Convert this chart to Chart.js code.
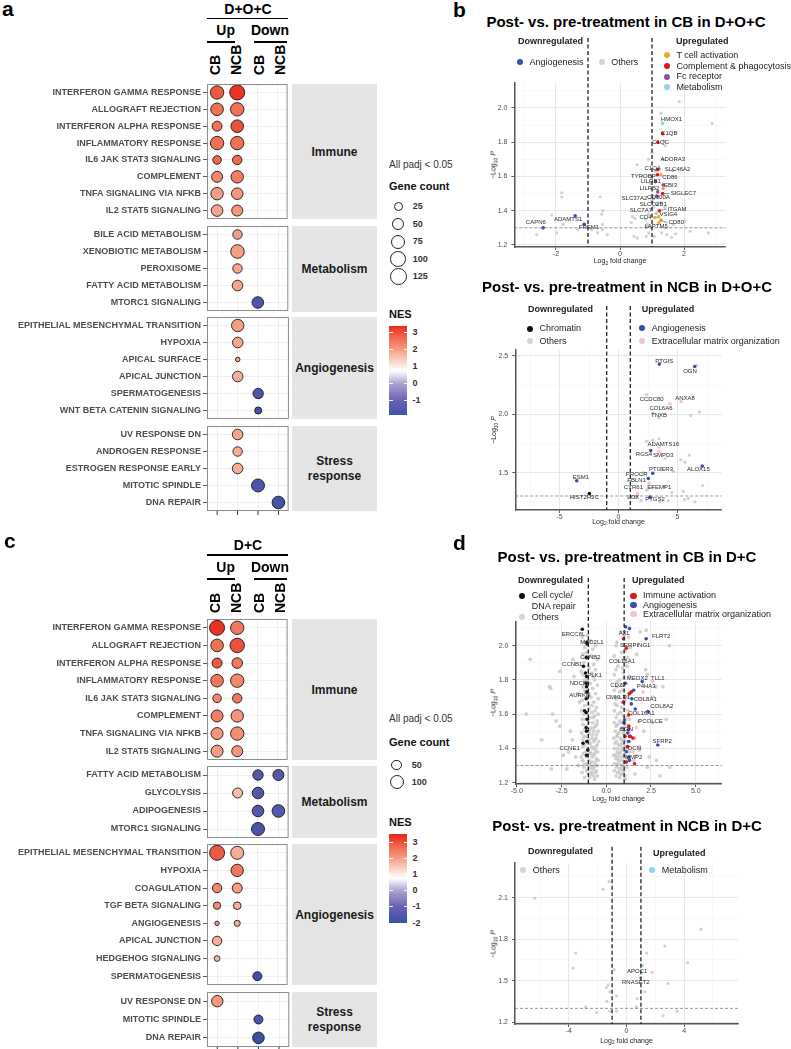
<!DOCTYPE html>
<html><head><meta charset="utf-8">
<script src="https://cdn.jsdelivr.net/npm/chart.js@4.4.1/dist/chart.umd.min.js"></script>
<style>
html,body{margin:0;padding:0;background:#fff;}
#root{position:relative;width:791px;height:1049px;overflow:hidden;font-family:"Liberation Sans",Arial,Helvetica,sans-serif;background:#fff;}
#root canvas{position:absolute;}
.t{position:absolute;white-space:nowrap;}
.t sub{font-size:70%;vertical-align:baseline;position:relative;top:0.35em;line-height:0;}
</style></head><body><div id="root"></div>
<script>
// ================= DATA =================
const boxColumns = ['CB Up','NCB Up','CB Down','NCB Down'];

// ---- Panel a: D+O+C (columns: CB Up, NCB Up, CB Down, NCB Down) ----
const aImmuneRows = ['INTERFERON GAMMA RESPONSE','ALLOGRAFT REJECTION','INTERFERON ALPHA RESPONSE','INFLAMMATORY RESPONSE','IL6 JAK STAT3 SIGNALING','COMPLEMENT','TNFA SIGNALING VIA NFKB','IL2 STAT5 SIGNALING'];
const aImmuneCount = [[79,105,null,null],[68,79,null,null],[37,68,null,null],[79,79,null,null],[25,32,null,null],[48,65,null,null],[65,55,null,null],[55,48,null,null]];
const aImmuneNES   = [[2.9,3.3,null,null],[2.6,2.6,null,null],[2.6,3.0,null,null],[2.6,2.6,null,null],[2.7,2.7,null,null],[2.3,2.4,null,null],[2.0,2.1,null,null],[1.9,2.1,null,null]];
const aMetabRows = ['BILE ACID METABOLISM','XENOBIOTIC METABOLISM','PEROXISOME','FATTY ACID METABOLISM','MTORC1 SIGNALING'];
const aMetabCount = [[null,32,null,null],[null,82,null,null],[null,32,null,null],[null,43,null,null],[null,null,55,null]];
const aMetabNES   = [[null,2.0,null,null],[null,2.0,null,null],[null,1.9,null,null],[null,1.9,null,null],[null,null,-1.6,null]];
const aAngioRows = ['EPITHELIAL MESENCHYMAL TRANSITION','HYPOXIA','APICAL SURFACE','APICAL JUNCTION','SPERMATOGENESIS','WNT BETA CATENIN SIGNALING'];
const aAngioCount = [[null,65,null,null],[null,43,null,null],[null,6,null,null],[null,43,null,null],[null,null,41,null],[null,null,15,null]];
const aAngioNES   = [[null,2.0,null,null],[null,1.9,null,null],[null,2.0,null,null],[null,1.8,null,null],[null,null,-1.6,null],[null,null,-1.8,null]];
const aStressRows = ['UV RESPONSE DN','ANDROGEN RESPONSE','ESTROGEN RESPONSE EARLY','MITOTIC SPINDLE','DNA REPAIR'];
const aStressCount = [[null,43,null,null],[null,32,null,null],[null,43,null,null],[null,null,73,null],[null,null,null,68]];
const aStressNES   = [[null,1.9,null,null],[null,1.8,null,null],[null,1.8,null,null],[null,null,-1.6,null],[null,null,null,-1.8]];
const aSizeLegend = [25,50,75,100,125];
const aNesTicks = [3,2,1,0,-1];

// ---- Panel c: D+C ----
const cImmuneRows = aImmuneRows;
const cImmuneCount = [[138,104,null,null],[90,125,null,null],[50,58,null,null],[90,104,null,null],[34,43,null,null],[79,86,null,null],[79,104,null,null],[79,64,null,null]];
const cImmuneNES   = [[3.3,2.5,null,null],[2.6,3.0,null,null],[2.9,2.5,null,null],[2.5,2.3,null,null],[2.3,2.5,null,null],[2.4,2.1,null,null],[2.1,2.2,null,null],[2.0,2.1,null,null]];
const cMetabRows = ['FATTY ACID METABOLISM','GLYCOLYSIS','ADIPOGENESIS','MTORC1 SIGNALING'];
const cMetabCount = [[null,null,55,64],[null,50,73,null],[null,null,73,90],[null,null,97,null]];
const cMetabNES   = [[null,null,-1.5,-1.5],[null,1.6,-1.5,null],[null,null,-1.5,-1.5],[null,null,-1.7,null]];
const cAngioRows = ['EPITHELIAL MESENCHYMAL TRANSITION','HYPOXIA','COAGULATION','TGF BETA SIGNALING','ANGIOGENESIS','APICAL JUNCTION','HEDGEHOG SIGNALING','SPERMATOGENESIS'];
const cAngioCount = [[138,97,null,null],[null,86,null,null],[43,50,null,null],[23,25,null,null],[9,15,null,null],[43,null,null,null],[13,null,null,null],[null,null,38,null]];
const cAngioNES   = [[2.9,1.8,null,null],[null,2.5,null,null],[2.3,2.0,null,null],[2.2,1.8,null,null],[2.0,1.8,null,null],[1.8,null,null,null],[1.6,null,null,null],[null,null,-1.9,null]];
const cStressRows = ['UV RESPONSE DN','MITOTIC SPINDLE','DNA REPAIR'];
const cStressCount = [[70,null,null,null],[null,null,38,null],[null,null,73,null]];
const cStressNES   = [[2.1,null,null,null],[null,null,-1.6,null],[null,null,-2.0,null]];
const cSizeLegend = [50,100];
const cNesTicks = [3,2,1,0,-1,-2];

// ---- Panel b top: CB in D+O+C  [log2FC, -log10 P] ----
const bTopTcell = [[1.28,1.61],[1.35,1.53],[1.09,1.36],[1.2,1.365],[1.28,1.345],[1.22,1.33]];
const bTopComplement = [[1.33,1.85],[1.18,1.80],[1.18,1.64],[1.17,1.61],[1.33,1.50],[1.23,1.40]];
const bTopFc = [[1.11,1.57],[1.35,1.55],[1.18,1.51],[1.15,1.485]];
const bTopMetab = [[1.33,1.91],[1.35,1.70],[1.65,1.635],[1.05,1.47],[1.17,1.435],[1.13,1.385]];
const bTopAngio = [[-2.4,1.30],[-1.4,1.37],[-1.12,1.32]];
const bTopOthers = [[1.85,2.037],[2.88,1.91],[1.28,1.97],[1.38,1.81],[1.41,1.78],[0.89,1.70],[0.54,1.67],[-1.82,1.505],[-1.82,1.48],[-0.62,1.48],[-2.13,1.375],[-0.54,1.40],[-0.57,1.38],[0.39,1.365],[0.47,1.356],[0.89,1.38],[0.80,1.35],[0.85,1.32],[0.82,1.30],[0.88,1.31],[0.9,1.27],[0.82,1.25],[0.44,1.25],[0.54,1.24],[-0.55,1.32],[-0.55,1.29],[-0.7,1.27],[-0.89,1.29],[-0.4,1.26],[-2.6,1.26],[-1.98,1.27],[-1.32,1.29],[1.3,1.27],[1.46,1.26],[1.61,1.245],[1.74,1.265],[2.19,1.28],[2.76,1.27],[2.03,1.34],[1.67,1.32],[1.41,1.30],[1.07,1.25],[-1.78,1.32],[1.0,1.74],[1.1,1.63],[0.95,1.56],[1.0,1.45],[1.05,1.42],[1.25,1.45],[1.4,1.42],[0.35,1.33]];
const bTopLabels = [['HMOX1',1.61,1.934],['C1QB',1.54,1.85],['C1QC',1.27,1.80],['ADORA3',1.65,1.70],['C1QA',1.02,1.645],['SLC46A2',1.80,1.64],['TYROBP',0.73,1.60],['CD86',1.56,1.595],['LILRB1',0.96,1.57],['EBI3',1.58,1.55],['LILRB2',0.92,1.53],['SIGLEC7',1.98,1.50,1.33,1.50],['SLC37A2',0.45,1.47,1.05,1.47],['CD300A',1.2,1.48],['SLCO2B1',1.04,1.44],['ITGAM',1.78,1.41,1.23,1.40],['SLC7A7',0.65,1.40],['VSIG4',1.51,1.38],['CD4',0.8,1.36],['CD80',1.76,1.33,1.25,1.345],['LAPTM5',1.13,1.31],['CAPN6',-2.63,1.33],['ADAMTS1',-1.62,1.35],['FREM1',-0.97,1.30]];

// ---- Panel b bottom: NCB in D+O+C ----
const bBotChromatin = [[-2.47,1.32]];
const bBotAngio = [[3.46,2.43],[6.46,2.41],[2.73,1.69],[7.10,1.557],[2.90,1.495],[2.53,1.45],[2.67,1.29],[-3.54,1.43]];
const bBotECM = [[2.39,2.17],[5.30,2.11],[4.36,2.09],[3.43,1.97],[3.43,1.72],[3.43,1.68],[2.6,1.41],[2.9,1.37],[1.6,1.32],[1.4,1.29]];
const bBotOthers = [[6.63,2.42],[6.85,2.02],[6.12,1.99],[2.95,2.01],[3.43,1.79],[2.9,1.78],[2.39,1.77],[5.27,1.61],[6.0,1.65],[5.64,1.59],[3.94,1.62],[4.65,1.51],[3.66,1.54],[7.13,1.39],[5.49,1.34],[5.92,1.28],[6.48,1.25],[5.6,1.27],[4.22,1.26],[3.5,1.25],[4.5,1.33],[2.4,1.35],[3.9,1.38],[1.9,1.26],[2.1,1.5]];
const bBotLabels = [['PTGIS',3.88,2.45],['OGN',6.06,2.37],['CCDC80',2.81,2.13],['ANXA8',5.64,2.14],['COL6A6',3.60,2.05],['TNXB',3.43,1.995],['ADAMTS16',3.8,1.74],['RGS4',2.16,1.66],['SMPD3',3.8,1.65],['PTGER3',3.6,1.53],['ALOX15',6.77,1.53],['PROCR',1.54,1.486],['FBLN1',1.54,1.43],['EFEMP1',3.46,1.375],['CYR61',1.26,1.37],['LOX',1.26,1.29],['PTGS2',3.09,1.27],['ESM1',-3.18,1.46],['HIST2H3C',-2.9,1.29]];

// ---- Panel d top: CB in D+C ----
const dTopCellCycle = [[-1.34,2.096],[-1.08,2.02],[-1.06,2.01],[-1.12,1.93],[-1.27,1.88],[-1.16,1.84],[-1.1,1.82],[-1.12,1.78],[-1.1,1.76],[-1.08,1.73],[-1.12,1.69],[-1.21,1.62],[-1.12,1.61],[-1.06,1.57],[-1.12,1.52],[-1.1,1.5],[-1.08,1.44],[-1.3,1.43],[-1.03,1.39],[-1.1,1.36]];
const dTopImmune = [[0.97,2.04],[1.12,1.985],[1.40,1.73],[1.3,1.72],[0.97,1.67],[1.25,1.595],[1.26,1.53],[1.05,1.47],[1.49,1.46],[1.2,1.41],[1.12,1.32],[1.58,1.31],[1.35,1.47]];
const dTopAngio = [[1.08,2.11],[1.30,2.10],[2.23,2.04],[1.06,1.78],[2.01,1.79],[1.53,1.74],[1.43,1.69],[1.40,1.66],[1.62,1.63],[2.33,1.615],[1.02,1.566],[0.99,1.55],[1.25,1.51],[1.2,1.49],[1.3,1.47],[1.26,1.44],[1.18,1.41],[1.12,1.38],[1.25,1.35],[1.3,1.33],[2.88,1.42]];
const dTopECM = [[2.6,1.79],[2.05,1.73],[1.12,1.58],[1.82,1.556],[1.68,1.52],[1.86,1.41],[1.68,1.36],[1.02,1.93],[1.9,1.69],[1.6,1.46],[1.5,1.38],[1.2,1.7],[1.45,1.6]];
const dTopOthers = [[-1.35,2.05],[-0.9,2.03],[-1.2,1.99],[-0.75,1.98],[-1.3,1.95],[-0.85,1.94],[-1.25,1.9],[-0.7,1.89],[-0.95,1.87],[-1.4,1.85],[-0.8,1.84],[-1.2,1.8],[-0.65,1.8],[-0.9,1.78],[-1.3,1.76],[-0.75,1.75],[-1.15,1.73],[-0.6,1.72],[-0.85,1.7],[-1.35,1.68],[-0.7,1.67],[-1.2,1.65],[-0.55,1.64],[-0.95,1.63],[-0.8,1.61],[-1.25,1.6],[-0.65,1.59],[-0.9,1.58],[-1.15,1.57],[-0.5,1.56],[-0.75,1.55],[-1.3,1.54],[-0.6,1.53],[-0.85,1.52],[-1.2,1.51],[-0.7,1.5],[-0.95,1.49],[-0.55,1.48],[-1.25,1.47],[-0.8,1.46],[-0.65,1.45],[-1.1,1.44],[-0.9,1.43],[-0.5,1.42],[-1.3,1.41],[-0.75,1.4],[-0.6,1.39],[-1.15,1.38],[-0.85,1.37],[-0.7,1.36],[-1.4,1.35],[-0.55,1.34],[-0.95,1.33],[-0.8,1.32],[-1.2,1.31],[-0.65,1.3],[-0.9,1.29],[-0.75,1.28],[-1.1,1.27],[-0.6,1.26],[-0.85,1.25],[-0.7,1.24],
[-1.05,2.06],[-0.6,2.0],[-1.1,1.96],[-0.5,1.92],[-1.0,1.88],[-0.6,1.86],[-1.3,1.83],[-0.72,1.82],[-1.05,1.8],[-0.5,1.77],[-1.2,1.74],[-0.95,1.72],[-0.45,1.69],[-1.0,1.66],[-0.8,1.65],[-1.4,1.62],[-0.62,1.62],[-1.05,1.6],[-0.45,1.6],[-0.72,1.58],[-1.35,1.57],[-0.98,1.55],[-0.52,1.54],[-1.15,1.53],[-0.68,1.52],[-0.92,1.51],[-0.45,1.5],[-1.38,1.49],[-0.78,1.48],[-1.08,1.47],[-0.58,1.46],[-1.3,1.45],[-0.98,1.45],[-0.7,1.44],[-0.42,1.44],[-1.2,1.42],[-0.82,1.41],[-0.58,1.41],[-1.05,1.4],[-0.48,1.38],[-0.92,1.38],[-1.28,1.37],[-0.65,1.37],[-1.1,1.35],[-0.78,1.35],[-0.45,1.33],[-1.32,1.33],[-0.62,1.32],[-1.05,1.31],[-0.88,1.31],[-0.5,1.3],[-1.25,1.29],[-0.7,1.29],[-0.98,1.28],[-0.55,1.27],[-1.35,1.26],[-0.8,1.26],[-1.0,1.25],[-0.5,1.24],[-1.2,1.23],[-0.92,1.23],[-0.65,1.22],
[0.8,2.08],[1.25,2.05],[0.6,2.02],[1.35,1.99],[0.85,1.96],[1.2,1.93],[0.7,1.91],[1.15,1.88],[0.55,1.86],[0.95,1.84],[1.3,1.82],[0.75,1.8],[1.1,1.78],[0.6,1.76],[0.9,1.74],[1.25,1.72],[0.7,1.7],[1.05,1.68],[0.5,1.66],[0.85,1.64],[1.2,1.62],[0.65,1.6],[0.95,1.59],[1.3,1.57],[0.75,1.56],[1.1,1.54],[0.55,1.53],[0.9,1.52],[1.25,1.5],[0.7,1.49],[1.0,1.48],[0.6,1.47],[0.85,1.45],[1.15,1.44],[0.5,1.43],[0.8,1.42],[1.05,1.41],[0.65,1.4],[0.95,1.39],[1.3,1.38],[0.75,1.37],[0.55,1.36],[0.9,1.35],[1.2,1.34],[0.7,1.33],[1.0,1.32],[0.6,1.31],[0.85,1.3],[1.15,1.29],[0.75,1.28],[0.95,1.27],[0.65,1.26],[0.8,1.25],[1.05,1.24],
[1.0,2.06],[0.55,2.0],[1.05,1.97],[0.45,1.94],[1.0,1.91],[0.65,1.88],[0.9,1.87],[0.45,1.83],[1.0,1.81],[0.62,1.79],[0.85,1.77],[0.45,1.74],[0.75,1.73],[1.0,1.71],[0.55,1.69],[0.9,1.67],[0.6,1.65],[1.0,1.63],[0.45,1.62],[0.8,1.61],[0.55,1.58],[1.05,1.57],[0.85,1.55],[0.45,1.55],[0.65,1.54],[1.0,1.52],[0.8,1.51],[0.5,1.5],[0.95,1.49],[0.62,1.48],[0.42,1.46],[0.78,1.46],[1.0,1.45],[0.58,1.44],[0.9,1.43],[0.7,1.42],[0.45,1.4],[0.88,1.4],[1.1,1.39],[0.62,1.38],[0.8,1.38],[0.42,1.36],[1.0,1.36],[0.7,1.35],[0.55,1.34],[0.88,1.33],[1.1,1.32],[0.45,1.31],[0.72,1.31],[0.95,1.3],[0.58,1.29],[0.82,1.28],[0.45,1.27],[1.0,1.27],[0.68,1.26],[0.9,1.25],[0.55,1.24],[0.75,1.23],[1.05,1.22],
[-4.25,1.92],[-3.17,1.76],[-3.1,1.75],[-4.47,1.6],[-3.0,1.6],[-2.8,1.56],[-2.6,1.53],[-3.07,1.28],[-2.4,1.36],[-2.1,1.38],[-2.2,1.28],[-2.6,1.85],[-1.86,1.92],[-1.8,1.82],[-1.5,1.67],[-1.6,1.72],[-1.9,1.45],[-1.7,1.35],[-1.55,1.3],[-3.6,1.45],[-2.0,1.5],
[2.23,2.09],[3.53,2.0],[3.16,1.76],[2.78,1.76],[2.3,1.83],[2.6,1.7],[3.35,1.57],[2.6,1.55],[1.85,1.39],[2.4,1.35],[2.8,1.33],[2.3,1.29],[1.54,1.33],[3.55,1.29],[3.0,1.24],[2.2,1.86],[1.7,1.95],[1.9,2.08],[1.6,1.25],[2.1,1.5]];
const dTopLabels = [['ERCC6L',-1.83,2.066],['AXL',1.02,2.07],['FLRT2',3.07,2.057],['MAD2L1',-0.80,2.02],['SERPING1',1.62,2.0],['CCNB2',-0.88,1.93],['COL15A1',0.87,1.91],['CCNB1',-1.9,1.89],['PLK1',-0.65,1.825],['MEOX2',1.73,1.81],['TLL1',2.88,1.81],['NDC80',-1.49,1.78],['CD22',0.65,1.77],['P4HA3',2.23,1.765],['AURKB',-1.49,1.71],['CMKLR1',0.65,1.70],['COL8A1',2.18,1.687],['COL8A2',3.1,1.645],['COL16A1',1.96,1.605],['PCOLCE',2.47,1.56],['BGN',1.13,1.51],['SFRP2',3.13,1.44],['CCNE1',-2.05,1.40],['DCN',1.58,1.40],['MMP2',1.53,1.35]];

// ---- Panel d bottom: NCB in D+C ----
const dBotMetab = [[1.08,1.61],[0.97,1.52]];
const dBotOthers = [[-6.37,2.096],[-1.21,2.216],[-1.62,2.16],[-3.52,1.70],[-3.71,1.59],[5.16,1.87],[2.66,1.75],[1.39,1.70],[4.24,1.63],[1.78,1.56],[2.89,1.48],[1.27,1.42],[-0.86,1.58],[-1.28,1.47],[-1.39,1.45],[-1.16,1.42],[-0.69,1.39],[-1.35,1.35],[0.74,1.37],[0.69,1.31],[-2.83,1.31],[-2.08,1.27],[-1.16,1.28],[-0.69,1.28],[3.51,1.28],[2.54,1.245]];
const dBotLabels = [['APOC1',0.74,1.57],['RNASET2',0.65,1.49]];

// ---- tick values / labels ----
const bTopXTicks = [-3,-2,-1,0,1,2,3], bTopXLabels = ['','-2','','0','','2',''];
const bTopYTicks = [1.2,1.3,1.4,1.5,1.6,1.7,1.8,1.9,2.0,2.1], bTopYLabels = ['1.2','','1.4','','1.6','','1.8','','2.0',''];
const bBotXTicks = [-7.5,-5,-2.5,0,2.5,5,7.5], bBotXLabels = ['','-5','','0','','5',''];
const bBotYTicks = [1.25,1.5,1.75,2.0,2.25,2.5], bBotYLabels = ['','1.5','','2.0','','2.5'];
const dTopXTicks = [-5,-3.75,-2.5,-1.25,0,1.25,2.5,3.75,5,6.25], dTopXLabels = ['-5.0','','-2.5','','0.0','','2.5','','5.0',''];
const dTopYTicks = bTopYTicks, dTopYLabels = bTopYLabels;
const dBotXTicks = [-6,-4,-2,0,2,4,6], dBotXLabels = ['','-4','','0','','4',''];
const dBotYTicks = [1.2,1.35,1.5,1.65,1.8,1.95,2.1,2.25], dBotYLabels = ['1.2','','1.5','','1.8','','2.1',''];

// ================= STYLE / HELPERS =================
const F = '"Liberation Sans", Arial, Helvetica, sans-serif';
Chart.defaults.font.family = F;
const root = document.getElementById('root');
const ORANGE='#f7a531', RED='#e4151b', PURPLE='#8d4fa5', LBLUE='#8fd3f0', BLUE='#3650b0', PINK='#f6c3cc', BLACK='#111111', GREY='rgba(198,198,198,0.8)', LGREY='#d4d4d4';
const NES_STOPS = [[-2.0,[59,78,166]],[-1.0,[106,98,178]],[0.0,[172,162,210]],[0.75,[255,255,255]],[1.5,[249,198,182]],[2.2,[244,142,115]],[2.9,[238,90,65]],[3.4,[232,41,28]]];
function nesColor(v){
  const s=NES_STOPS;
  const f=c=>`rgb(${Math.round(c[0])},${Math.round(c[1])},${Math.round(c[2])})`;
  if(v<=s[0][0]) return f(s[0][1]);
  for(let i=1;i<s.length;i++){ if(v<=s[i][0]){ const t=(v-s[i-1][0])/(s[i][0]-s[i-1][0]); const a=s[i-1][1], b=s[i][1]; return f([a[0]+(b[0]-a[0])*t,a[1]+(b[1]-a[1])*t,a[2]+(b[2]-a[2])*t]); } }
  return f(s[s.length-1][1]);
}
const sizeA = c => 1.7 + 0.581*Math.sqrt(Math.max(c-5,0));
const sizeC = c => 1.7 + 0.509*Math.sqrt(Math.max(c-8,0));

function T(html,x,base,size,o={}){
  const d=document.createElement('div'); d.className='t'; d.innerHTML=html;
  d.style.fontSize=size+'px'; d.style.lineHeight=size+'px';
  d.style.top=(base-0.8465*size)+'px';
  d.style.fontWeight=o.bold?'bold':'normal'; d.style.color=o.color||'#000';
  d.style.left=x+'px';
  if(o.align==='center') d.style.transform='translateX(-50%)';
  root.appendChild(d); return d;
}
function RT(html,cx,cy,size,o={}){ const d=T(html,cx,0,size,o); d.style.top=cy+'px'; d.style.transform='translate(-50%,-50%) rotate(-90deg)'; return d; }
function CL(txt,cx,bottom,size){ const d=T(txt,cx,0,size,{bold:true}); d.style.top=bottom+'px'; d.style.transformOrigin='0 0'; d.style.transform='rotate(-90deg) translateY(-50%)'; }
function RECT(x,y,w,h,bg){ const d=document.createElement('div'); d.style.cssText=`position:absolute;left:${x}px;top:${y}px;width:${w}px;height:${h}px;background:${bg};`; root.appendChild(d); return d; }
function DOT(cx,cy,r,col,border){ const d=document.createElement('div'); const b=border?`border:0.9px solid ${border};`:''; d.style.cssText=`position:absolute;left:${cx-r}px;top:${cy-r}px;width:${2*r}px;height:${2*r}px;border-radius:50%;background:${col};box-sizing:border-box;${b}`; root.appendChild(d); }
function addCanvas(l,t,w,h){ const c=document.createElement('canvas'); c.width=w; c.height=h; c.style.left=l+'px'; c.style.top=t+'px'; root.appendChild(c); return c; }

// ---------- bubble boxes ----------
function boxPlugin(xt){ return {id:'box', afterDraw(ch){ const c=ch.ctx,a=ch.chartArea; c.save(); c.strokeStyle='#8c8c8c'; c.lineWidth=1; c.strokeRect(a.left+0.5,a.top+0.5,a.right-a.left-1,a.bottom-a.top-1);
  if(xt){ c.strokeStyle='#333'; boxColumns.forEach((col,j)=>{ const x=ch.scales.x.getPixelForValue(j); c.beginPath(); c.moveTo(x,a.bottom); c.lineTo(x,a.bottom+4); c.stroke(); }); }
  c.restore(); }}; }
function makeBox(rows,counts,nes,top,bottom,sizeFn,xt){
  const M=12, W=296;
  const cv=addCanvas(0,top-M,W,bottom-top+2*M);
  const data=[];
  rows.forEach((row,i)=>boxColumns.forEach((col,j)=>{ if(counts[i][j]!=null) data.push({x:col,y:row,r:sizeFn(counts[i][j]),nes:nes[i][j]}); }));
  new Chart(cv,{type:'bubble',data:{datasets:[{data,backgroundColor:ctx=>nesColor(ctx.raw.nes),borderColor:'#1a1a1a',borderWidth:0.9,clip:false}]},
    options:{responsive:false,animation:false,devicePixelRatio:1,events:[],
      layout:{padding:{left:0,right:W-291,top:M,bottom:M}},
      plugins:{legend:{display:false},tooltip:{enabled:false}},
      scales:{
        x:{type:'category',labels:boxColumns,offset:true,afterFit:s=>{s.height=0;},ticks:{display:false},grid:{color:'#ebebeb',lineWidth:0.8,offset:false,drawTicks:false},border:{display:false}},
        y:{type:'category',labels:rows,offset:true,afterFit:s=>{s.width=207;},ticks:{font:{size:9,weight:'bold',family:F},color:'#4d4d4d',padding:2,autoSkip:false},grid:{color:'#ebebeb',lineWidth:0.8,offset:false,tickLength:4,tickColor:'#333'},border:{display:false}}
      }},plugins:[boxPlugin(xt)]});
}
function strip(top,bottom,lines){
  RECT(292,top,85,bottom-top,'#e5e5e5');
  const cy=(top+bottom)/2;
  lines.forEach((s,i)=>T(s,334.5,cy+(i-(lines.length-1)/2)*15+4.3,12,{bold:true,align:'center',color:'#1a1a1a'}));
}
function colorbar(x,top,h,w,vTop,vBot,ticks){
  const st=[]; for(let i=0;i<=40;i++){ const v=vTop-(vTop-vBot)*i/40; st.push(`${nesColor(v)} ${(i*2.5).toFixed(1)}%`); }
  RECT(x,top,w,h,`linear-gradient(to bottom, ${st.join(',')})`);
  ticks.forEach(v=>{ const y=top+(vTop-v)/(vTop-vBot)*h; RECT(x,y-0.5,3.5,1,'rgba(255,255,255,0.9)'); RECT(x+w-3.5,y-0.5,3.5,1,'rgba(255,255,255,0.9)'); T(String(v),x+w+5.5,y+3.2,9,{bold:true,color:'#333'}); });
}

// ---------- volcano ----------
function volcPlugin(cfg){ return {id:'volc', afterDraw(ch){
  const c=ch.ctx,xs=ch.scales.x,ys=ch.scales.y,a=ch.chartArea; c.save();
  const y13=ys.getPixelForValue(1.3);
  c.setLineDash([3,2]); c.strokeStyle='#6a6a6a'; c.lineWidth=0.7; c.beginPath(); c.moveTo(a.left,y13); c.lineTo(a.right,y13); c.stroke();
  c.setLineDash([4,2.5]); c.strokeStyle='#222'; c.lineWidth=1.3;
  [-1,1].forEach(v=>{ const x=xs.getPixelForValue(v); c.beginPath(); c.moveTo(x,cfg.dashTop-cfg.top); c.lineTo(x,a.bottom); c.stroke(); });
  c.setLineDash([]); c.font='6px '+F; c.fillStyle='#2a2a2a'; c.textAlign='center'; c.textBaseline='middle';
  cfg.labels.forEach(l=>{
    const lx=xs.getPixelForValue(l[1]), ly=ys.getPixelForValue(l[2]);
    if(l.length>3){ const px=xs.getPixelForValue(l[3]), py=ys.getPixelForValue(l[4]); const w=c.measureText(l[0]).width;
      const ex = lx>px ? lx-w/2-1 : lx+w/2+1; c.strokeStyle='#555'; c.lineWidth=0.6; c.beginPath(); c.moveTo(px,py); c.lineTo(ex,ly); c.stroke(); }
    c.fillText(l[0],lx,ly);
  });
  c.restore(); }}; }
function makeVolcano(cfg){
  const cv=addCanvas(cfg.left,cfg.top,cfg.width,cfg.height);
  const YW=22, XH=12, A=cfg.area;
  const pad={left:A.l-cfg.left-YW, top:A.t-cfg.top, right:cfg.left+cfg.width-A.r, bottom:cfg.top+cfg.height-A.b-XH};
  const datasets=cfg.groups.map(g=>({data:g.pts.map(p=>({x:p[0],y:p[1]})),backgroundColor:g.color,borderWidth:0,pointRadius:g.r||1.8,clip:false}));
  const axis=(ax,isX)=>({type:'linear',min:ax.min,max:ax.max,
    afterFit:s=>{ if(isX) s.height=XH; else s.width=YW; },
    afterBuildTicks:s=>{ s.ticks=ax.ticks.map(v=>({value:v})); },
    ticks:{callback:(v,i)=>ax.labels[i],font:{size:7,family:F},color:'#4d4d4d',padding:isX?0:4,autoSkip:false,maxRotation:0},
    grid:{color:ctx=>ax.labels[ctx.index]?'#e4e4e4':'#f1f1f1',lineWidth:ctx=>ax.labels[ctx.index]?0.9:0.5,tickLength:3,tickColor:ctx=>ax.labels[ctx.index]?'#444':'rgba(0,0,0,0)'},
    border:{display:true,color:'#555',width:1.5}});
  new Chart(cv,{type:'scatter',data:{datasets},options:{responsive:false,animation:false,devicePixelRatio:1,events:[],
    layout:{padding:pad},plugins:{legend:{display:false},tooltip:{enabled:false}},
    scales:{x:axis(cfg.x,true),y:axis(cfg.y,false)}},plugins:[volcPlugin(cfg)]});
  const cx=(A.l+A.r)/2, cy=(A.t+A.b)/2;
  T('Log<sub>2</sub> fold change',cx,cfg.xTitleBase,7,{align:'center',color:'#222'});
  RT('&minus;Log<sub>10</sub> <i>P</i>',493,cy,7,{color:'#222'});
}
function legendItem(cx,cy,col,text){ DOT(cx,cy,3.2,col); T(text,cx+9.5,cy+3.2,9,{color:'#222'}); }

// ================= PANEL a =================
T('a',2,16,21,{bold:true});
T('D+O+C',248,13.5,14,{bold:true,align:'center'});
RECT(207,17.8,81,1.4,'#000');
T('Up',225.7,34.5,14,{bold:true,align:'center'}); T('Down',270,34.5,14,{bold:true,align:'center'});
RECT(207,41.3,28,1.4,'#000'); RECT(254,41.3,33,1.4,'#000');
CL('CB',214.7,75,14); CL('NCB',235.8,75,14); CL('CB',259.3,75,14); CL('NCB',279.5,75,14);
makeBox(aImmuneRows,aImmuneCount,aImmuneNES,84,219,sizeA,false); strip(84,219,['Immune']);
makeBox(aMetabRows,aMetabCount,aMetabNES,226,311.5,sizeA,false); strip(226,311.5,['Metabolism']);
makeBox(aAngioRows,aAngioCount,aAngioNES,317,419,sizeA,false); strip(317,419,['Angiogenesis']);
makeBox(aStressRows,aStressCount,aStressNES,425.5,510.5,sizeA,true); strip(425.5,510.5,['Stress','response']);
T('All padj &lt; 0.05',389,168.3,10,{color:'#333'});
T('Gene count',389,190,11,{bold:true,color:'#111'});
[206.7,224.3,241.7,259.3,276.7].forEach((y,i)=>{ const r=sizeA(aSizeLegend[i]); DOT(398.3,y,r+0.45,'#fff','#222'); T(String(aSizeLegend[i]),412.7,y+3.2,9,{bold:true,color:'#333'}); });
T('NES',389,318.3,11,{bold:true,color:'#111'});
colorbar(389,326,89,18,3.4,-1.85,aNesTicks);

// ================= PANEL c =================
T('c',4,548,21,{bold:true});
T('D+C',248,549.5,14,{bold:true,align:'center'});
RECT(207,554.3,81,1.4,'#000');
T('Up',225.7,571.7,14,{bold:true,align:'center'}); T('Down',270,571.7,14,{bold:true,align:'center'});
RECT(207,578.3,28,1.4,'#000'); RECT(254,578.3,33,1.4,'#000');
CL('CB',214.7,613.3,14); CL('NCB',235.8,613.3,14); CL('CB',259.3,613.3,14); CL('NCB',279.5,613.3,14);
makeBox(cImmuneRows,cImmuneCount,cImmuneNES,619,760,sizeC,false); strip(619,760,['Immune']);
makeBox(cMetabRows,cMetabCount,cMetabNES,766,838,sizeC,false); strip(766,838,['Metabolism']);
makeBox(cAngioRows,cAngioCount,cAngioNES,844,985,sizeC,false); strip(844,985,['Angiogenesis']);
makeBox(cStressRows,cStressCount,cStressNES,991.5,1046.5,sizeC,true); strip(991.5,1046.5,['Stress','response']);
T('All padj &lt; 0.05',389,722.7,10,{color:'#333'});
T('Gene count',389,746.7,11,{bold:true,color:'#111'});
[765,782].forEach((y,i)=>{ const r=sizeC(cSizeLegend[i]); DOT(396.7,y,r+0.45,'#fff','#222'); T(String(cSizeLegend[i]),411.7,y+3.2,9,{bold:true,color:'#333'}); });
T('NES',389,826.7,11,{bold:true,color:'#111'});
colorbar(389,834,89,18,3.5,-2.0,cNesTicks);

// ================= PANEL b =================
T('b',453,17,21,{bold:true});
T('Post- vs. pre-treatment in CB in D+O+C',626,26.5,15,{bold:true,align:'center'});
makeVolcano({left:480,top:30,width:311,height:235,area:{l:514.4,t:83,r:725.6,b:247},
  x:{min:-3.3,max:3.3,ticks:bTopXTicks,labels:bTopXLabels},y:{min:1.188,max:2.146,ticks:bTopYTicks,labels:bTopYLabels},
  dashTop:38,xTitleBase:263,labels:bTopLabels,
  groups:[{pts:bTopTcell,color:ORANGE},{pts:bTopComplement,color:RED},{pts:bTopFc,color:PURPLE},{pts:bTopMetab,color:LBLUE},{pts:bTopAngio,color:BLUE},{pts:bTopOthers,color:GREY,r:1.6}]});
T('Downregulated',518,45,9,{bold:true,color:'#222'}); T('Upregulated',676,45,9,{bold:true,color:'#222'});
legendItem(520,62,BLUE,'Angiogenesis'); legendItem(601.7,62,LGREY,'Others');
legendItem(667,55.3,ORANGE,'T cell activation'); legendItem(667,66,RED,'Complement &amp; phagocytosis');
legendItem(667,76.7,PURPLE,'Fc receptor'); legendItem(667,87.3,LBLUE,'Metabolism');

T('Post- vs. pre-treatment in NCB in D+O+C',627,292,15,{bold:true,align:'center'});
makeVolcano({left:480,top:300,width:311,height:228,area:{l:515.25,t:350,r:721.75,b:510},
  x:{min:-8.75,max:8.75,ticks:bBotXTicks,labels:bBotXLabels},y:{min:1.18,max:2.551,ticks:bBotYTicks,labels:bBotYLabels},
  dashTop:306,xTitleBase:523.5,labels:bBotLabels,
  groups:[{pts:bBotChromatin,color:BLACK},{pts:bBotAngio,color:BLUE},{pts:bBotECM,color:PINK},{pts:bBotOthers,color:GREY,r:1.6}]});
T('Downregulated',528,312.3,9,{bold:true,color:'#222'}); T('Upregulated',641.7,312.3,9,{bold:true,color:'#222'});
legendItem(530,328.7,BLACK,'Chromatin'); legendItem(530,341,LGREY,'Others');
legendItem(642.3,328,BLUE,'Angiogenesis'); legendItem(642.3,341,PINK,'Extracellular matrix organization');

// ================= PANEL d =================
T('d',453,550,21,{bold:true});
T('Post- vs. pre-treatment in CB in D+C',627,562,15,{bold:true,align:'center'});
makeVolcano({left:480,top:570,width:311,height:232,area:{l:515.5,t:621.7,r:721.7,b:784},
  x:{min:-5.07,max:6.45,ticks:dTopXTicks,labels:dTopXLabels},y:{min:1.192,max:2.14,ticks:dTopYTicks,labels:dTopYLabels},
  dashTop:578,xTitleBase:801,labels:dTopLabels,
  groups:[{pts:dTopCellCycle,color:BLACK},{pts:dTopImmune,color:RED},{pts:dTopAngio,color:BLUE},{pts:dTopECM,color:PINK},{pts:dTopOthers,color:GREY,r:1.9}]});
T('Downregulated',518,584,9,{bold:true,color:'#222'}); T('Upregulated',632,584,9,{bold:true,color:'#222'});
legendItem(522.3,595.7,BLACK,'Cell cycle/'); T('DNA repair',531.8,609.9,9,{color:'#222'}); legendItem(522.3,617.3,LGREY,'Others');
legendItem(633.5,595.7,RED,'Immune activation'); legendItem(633.5,605,BLUE,'Angiogenesis'); legendItem(633.5,614.3,PINK,'Extracellular matrix organization');

T('Post- vs. pre-treatment in NCB in D+C',627,831,15,{bold:true,align:'center'});
makeVolcano({left:480,top:840,width:311,height:203,area:{l:515,t:863,r:738,b:1024},
  x:{min:-7.74,max:7.74,ticks:dBotXTicks,labels:dBotXLabels},y:{min:1.187,max:2.35,ticks:dBotYTicks,labels:dBotYLabels},
  dashTop:846.7,xTitleBase:1042.7,labels:dBotLabels,
  groups:[{pts:dBotMetab,color:LBLUE},{pts:dBotOthers,color:GREY,r:1.6}]});
T('Downregulated',528,855,9,{bold:true,color:'#222'}); T('Upregulated',653,856.7,9,{bold:true,color:'#222'});
legendItem(523.3,870,LGREY,'Others'); legendItem(652.3,870,LBLUE,'Metabolism');
</script></body></html>
